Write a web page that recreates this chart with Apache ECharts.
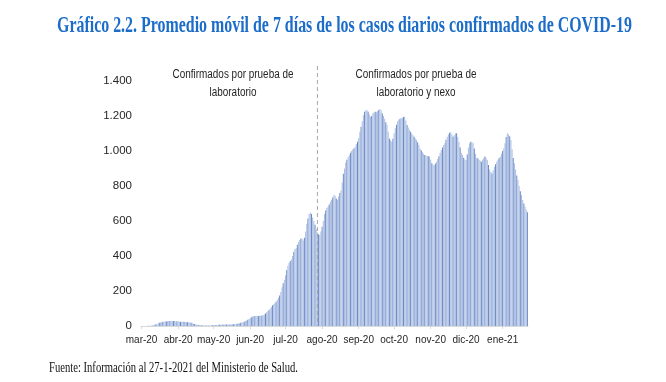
<!DOCTYPE html>
<html>
<head>
<meta charset="utf-8">
<script src="https://cdn.jsdelivr.net/npm/echarts@6/dist/echarts.min.js"></script>
<style>
  html, body { margin: 0; padding: 0; background: #fff; }
  #chart { width: 666px; height: 382px; }
</style>
</head>
<body>
<div id="chart"></div>
<script>
// ---- Data ----
const startDate = '2020-03-01';
const monthLabels = ['mar-20','abr-20','may-20','jun-20','jul-20','ago-20','sep-20','oct-20','nov-20','dic-20','ene-21'];
const yTicks = [0, 200, 400, 600, 800, 1000, 1200, 1400];

const marValues = [0,0,0,0,0, 1,1,1,2,3, 5,7,9,12,15, 18,20,22,24,25, 26,27,27,28,28, 29,29,28,28,27,27];
const abrValues = [26,25,25,24,24, 24,23,23,22,22, 21,19,16,13,11, 9,7,6,5,5, 4,4,3,3,3, 3,3,3,4,4];
const mayValues = [5,5,6,6,7, 7,7,8,8,8, 8,8,8,9,9, 9,10,10,11,12, 13,14,16,18,20, 22,25,28,32,36,40];
const junValues = [45,50,54,56,57, 57,58,57,58,59, 60,62,66,72,78, 85,92,100,108,118, 125,130,138,150,162, 175,195,222,245,265];
const julValues = [290,320,345,360,372, 380,400,425,440,445, 465,480,492,500,498, 488,505,540,585,615, 640,648,640,620,600, 578,555,535,525,520,540];
const agoValues = [567,600,640,660,675, 682,695,710,722,735, 749,745,728,722,740, 760,775,820,870,900, 935,950,965,977,990, 1000,1008,1015,1025,1040,1053];
const sepValues = [1075,1110,1139,1170,1205, 1225,1232,1234,1225,1210, 1196,1200,1215,1220,1225, 1222,1228,1235,1240,1232, 1215,1200,1185,1165,1149, 1110,1072,1062,1053,1070];
const octValues = [1101,1130,1150,1170,1178, 1185,1187,1190,1194,1196, 1175,1149,1135,1120,1110, 1100,1090,1082,1072,1063, 1050,1035,1015,1005,995, 985,977,975,972,970,968];
const novValues = [950,930,920,918,928, 939,955,970,990,1006, 1020,1035,1044,1065,1082, 1095,1105,1107,1095,1082, 1090,1100,1101,1080,1053, 1020,990,977,962,952];
const dicValues = [948,980,1020,1044,1053, 1050,1045,1015,985,960, 958,950,945,939,950, 960,968,960,948,920, 895,880,872,890,910, 925,939,950,960,968,985];
const eneValues = [1000,1015,1045,1080,1101, 1095,1085,1063,1010,960, 930,895,860,834,800, 770,749,720,700,682,665,650];

const dividerDate = '2020-07-28';
const annotationLeft = ['Confirmados por prueba de', 'laboratorio'];
const annotationRight = ['Confirmados por prueba de', 'laboratorio y nexo'];
const titleText = 'Gráfico 2.2. Promedio móvil de 7 días de los casos diarios confirmados de COVID-19';
const sourceText = 'Fuente: Información al 27-1-2021 del Ministerio de Salud.';

// ---- Build ----
const values = [].concat(marValues, abrValues, mayValues, junValues, julValues, agoValues,
                         sepValues, octValues, novValues, dicValues, eneValues);
const categories = [];
(function () {
  const d = new Date(startDate + 'T00:00:00Z');
  for (let i = 0; i < values.length; i++) {
    categories.push(d.toISOString().slice(0, 10));
    d.setUTCDate(d.getUTCDate() + 1);
  }
})();
const monthKeys = ['2020-03','2020-04','2020-05','2020-06','2020-07','2020-08','2020-09','2020-10','2020-11','2020-12','2021-01'];
function isMonthStart(idx) { return categories[idx] && categories[idx].slice(8) === '01'; }

function measure(text, font) {
  const c = document.createElement('canvas').getContext('2d');
  c.font = font;
  return c.measureText(text).width;
}
const titleFont = 'bold 24px "Liberation Serif", "Times New Roman", serif';
const titleScale = 575 / measure(titleText, titleFont);
const srcFont = '15px "Liberation Serif", "Times New Roman", serif';
const srcScale = 249 / measure(sourceText, srcFont);

const sans = '"Liberation Sans", Arial, sans-serif';
const annFont = '12.5px ' + sans;
const annScale = 121 / measure(annotationLeft[0], annFont);

const chart = echarts.init(document.getElementById('chart'), null, { renderer: 'canvas' });

chart.setOption({
  animation: false,
  backgroundColor: '#ffffff',
  grid: { left: 141, top: 81, width: 387, height: 245, containLabel: false },
  xAxis: {
    type: 'category',
    data: categories,
    boundaryGap: true,
    axisLine: { show: true, lineStyle: { color: '#d9d9d9', width: 1 } },
    axisTick: { show: true, alignWithLabel: true, length: 3, interval: (i) => isMonthStart(i), lineStyle: { color: '#d9d9d9' } },
    axisLabel: {
      interval: (i) => isMonthStart(i),
      formatter: (v) => { const k = monthKeys.indexOf(v.slice(0, 7)); return k >= 0 ? monthLabels[k] : ''; },
      fontFamily: sans, fontSize: 10, color: '#262626', margin: 9
    },
    splitLine: { show: false }
  },
  yAxis: {
    type: 'value',
    min: yTicks[0], max: yTicks[yTicks.length - 1], interval: 200,
    axisLine: { show: false },
    axisTick: { show: false },
    splitLine: { show: false },
    axisLabel: {
      formatter: (v) => v.toLocaleString('de-DE'),
      fontFamily: sans, fontSize: 11.5, color: '#262626', margin: 9
    }
  },
  series: [{
    type: 'bar',
    data: values,
    barCategoryGap: '15%',
    itemStyle: {
      color: (p) => (p.dataIndex % 3 === 0 ? '#6b89c6' : '#a9bde2')
    }
  }]
});

const divX = chart.convertToPixel({ xAxisIndex: 0 }, dividerDate);
const y0 = chart.convertToPixel({ yAxisIndex: 0 }, 0);

const graphics = [
  { type: 'line', shape: { x1: divX, y1: 66, x2: divX, y2: y0 }, style: { stroke: '#a6a6a6', lineWidth: 1, lineDash: [4, 3] }, z: 10 },
  { type: 'text', x: 57, y: 26, scaleX: titleScale, style: { text: titleText, font: titleFont, fill: '#1c6dc9', textAlign: 'left', textVerticalAlign: 'middle' } },
  { type: 'text', x: 49, y: 368, scaleX: srcScale, style: { text: sourceText, font: srcFont, fill: '#111', textAlign: 'left', textVerticalAlign: 'middle' } }
];
[[annotationLeft, 233], [annotationRight, 416]].forEach(([lines, cx]) => {
  lines.forEach((t, j) => {
    graphics.push({ type: 'text', x: cx, y: 75 + j * 18, scaleX: annScale, style: { text: t, font: annFont, fill: '#262626', textAlign: 'center', textVerticalAlign: 'middle' } });
  });
});
chart.setOption({ graphic: graphics });
</script>
</body>
</html>
